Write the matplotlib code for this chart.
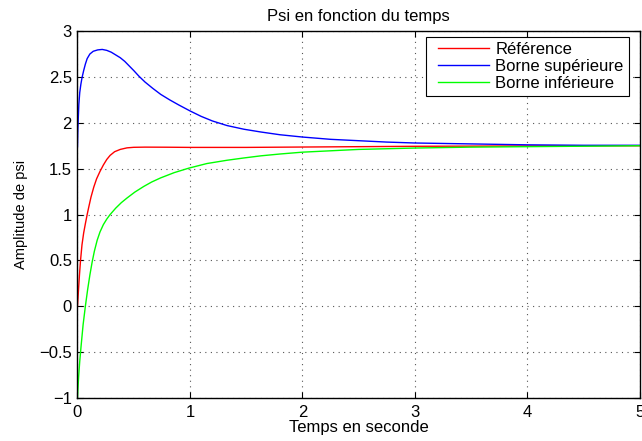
import matplotlib
matplotlib.use("Agg")
import matplotlib.pyplot as plt
from matplotlib.lines import Line2D
from matplotlib.legend_handler import HandlerLine2D

plt.rcParams['font.family'] = ['Liberation Sans', 'DejaVu Sans']

# Psi trajectories
t_ref = [0, 0.005, 0.01, 0.018, 0.027, 0.04, 0.055, 0.07, 0.086, 0.1, 0.12, 0.145,
         0.17, 0.2, 0.23, 0.26, 0.29, 0.33, 0.38, 0.44, 0.5, 0.6, 0.8, 1.0, 1.5,
         2.0, 2.5, 3.0, 3.5, 4.0, 4.5, 5.0]
psi_ref = [0, 0.1, 0.2, 0.35, 0.5, 0.67, 0.8, 0.9, 1.0, 1.08, 1.19, 1.3,
           1.39, 1.47, 1.54, 1.6, 1.645, 1.685, 1.71, 1.727, 1.733, 1.735, 1.734, 1.732, 1.732,
           1.736, 1.74, 1.744, 1.746, 1.748, 1.75, 1.75]

t_sup = [0, 0.003, 0.007, 0.012, 0.02, 0.03, 0.04, 0.055, 0.07, 0.086, 0.11, 0.14,
         0.18, 0.22, 0.26, 0.3, 0.34, 0.38, 0.42, 0.46, 0.5, 0.545, 0.6, 0.67, 0.74,
         0.82, 0.9, 1.0, 1.1, 1.2, 1.33, 1.48, 1.63, 1.8, 2.0, 2.25, 2.5, 2.75,
         3.0, 3.5, 4.0, 4.5, 5.0]
psi_sup = [1.74, 1.91, 2.05, 2.2, 2.33, 2.42, 2.49, 2.57, 2.64, 2.7, 2.75, 2.78,
           2.795, 2.80, 2.79, 2.77, 2.74, 2.71, 2.67, 2.62, 2.57, 2.51, 2.445, 2.375, 2.31,
           2.25, 2.195, 2.13, 2.07, 2.02, 1.97, 1.93, 1.9, 1.87, 1.845, 1.82, 1.805, 1.79,
           1.78, 1.77, 1.76, 1.755, 1.755]

t_inf = [0, 0.005, 0.01, 0.02, 0.033, 0.05, 0.07, 0.09, 0.11, 0.13, 0.15, 0.175,
         0.2, 0.23, 0.26, 0.29, 0.34, 0.39, 0.44, 0.51, 0.59, 0.66, 0.74, 0.86, 0.99,
         1.15, 1.33, 1.48, 1.63, 1.8, 2.0, 2.25, 2.5, 3.0, 3.5, 4.0, 4.5, 5.0]
psi_inf = [-1, -0.88, -0.77, -0.6, -0.42, -0.2, 0, 0.18, 0.34, 0.48, 0.6, 0.72,
           0.81, 0.89, 0.95, 1.0, 1.07, 1.13, 1.18, 1.245, 1.307, 1.355, 1.40, 1.457, 1.506,
           1.556, 1.592, 1.617, 1.64, 1.66, 1.68, 1.695, 1.71, 1.725, 1.735, 1.74, 1.745, 1.75]

xticks = [0, 1, 2, 3, 4, 5]
yticks = [-1, -0.5, 0, 0.5, 1, 1.5, 2, 2.5, 3]
ytick_labels = ['\u22121', '\u22120.5', '0', '0.5', '1', '1.5', '2', '2.5', '3']

fig = plt.figure(figsize=(6.42, 4.41), dpi=100)
ax = fig.add_axes([0.1207, 0.0975, 0.876, 0.832])

ax.plot(t_ref, psi_ref, color='#ff0000', lw=1, label='Référence')
ax.plot(t_sup, psi_sup, color='#0000ff', lw=1, label='Borne supérieure')
ax.plot(t_inf, psi_inf, color='#00ff00', lw=1, label='Borne inférieure')

ax.set_xlim(0, 5)
ax.set_ylim(-1, 3)
ax.set_xticks(xticks)
ax.set_yticks(yticks)
ax.set_yticklabels(ytick_labels)
ax.tick_params(direction='in', top=True, right=True, labelsize=12, length=4, pad=4)
ax.tick_params(axis='x', pad=5)
ax.grid(True, linestyle=(0, (1, 4)), color='#555555', linewidth=0.8)
for s in ax.spines.values():
    s.set_linewidth(1)

ax.set_title('Psi en fonction du temps', fontsize=12, pad=7)
ax.set_xlabel('Temps en seconde', fontsize=12, labelpad=0)
ax.set_ylabel('Amplitude de psi', fontsize=10.5, labelpad=8)

# legend lines get some space before them, like a MATLAB legend
leg = ax.legend(loc='upper right', bbox_to_anchor=(0.98, 0.984), fontsize=12,
                fancybox=False, framealpha=1, edgecolor='black',
                handlelength=3.5, handletextpad=0.36, borderpad=0.3,
                labelspacing=0.12, borderaxespad=0,
                handler_map={Line2D: HandlerLine2D(xpad=0.4)})
leg.get_frame().set_linewidth(0.8)

plt.savefig('out.png', dpi=100)
